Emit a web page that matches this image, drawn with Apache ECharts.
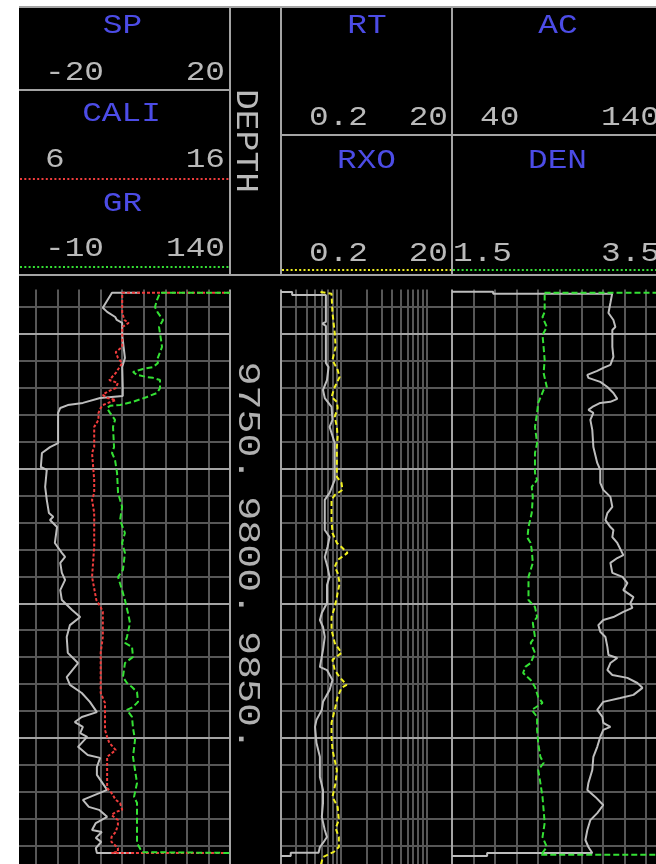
<!DOCTYPE html>
<html>
<head>
<meta charset="utf-8">
<script src="https://cdn.jsdelivr.net/npm/echarts@6/dist/echarts.min.js"></script>
<style>
  html, body { margin: 0; padding: 0; background: #fff; }
  #chart { width: 656px; height: 864px; }
</style>
</head>
<body>
<div id="chart"></div>
<script>
// Depth window and grid
const depthRange = [9680, 9900];
const majorDepths = [9700, 9750, 9800, 9850];
const depthLabels = [9750, 9800, 9850];
const logGrid = [0.3, 0.4, 0.5, 0.6, 0.7, 0.8, 0.9, 1, 2, 3, 4, 5, 6, 7, 8, 9, 10];

// Curve scales: [left, right]
const spScale = [-20, 20];
const caliScale = [6, 16];
const grScale = [-10, 140];
const rtScale = [0.2, 20];
const rxoScale = [0.2, 20];
const acScale = [40, 140];
const denScale = [1.5, 3.5];

// Curves as [depth, value]
const SP = [
  [9684.7, 3.3], [9684.7, -1.9], [9690.3, -3.6], [9691.8, -2.8], [9693.7, -1.3], [9694.8, -1.0],
  [9695.9, 0.0], [9700.4, 0.0], [9708.9, 0.5], [9712.3, 0.0], [9719.7, 0.1], [9723.0, 0.1],
  [9723.8, -4.1], [9725.6, -7.3], [9726.4, -10.1], [9727.5, -11.5], [9729.3, -11.9], [9735.6, -11.9],
  [9740.5, -11.9], [9742.0, -13.4], [9744.2, -14.9], [9749.4, -15.1], [9750.5, -14.0], [9756.8, -14.3],
  [9761.6, -14.0], [9766.5, -13.6], [9767.9, -12.8], [9769.1, -13.4], [9771.7, -12.1], [9777.6, -12.5],
  [9781.3, -11.2], [9782.8, -10.6], [9785.0, -11.5], [9788.7, -11.2], [9791.3, -10.6], [9795.1, -11.5],
  [9798.8, -11.2], [9802.5, -9.3], [9805.1, -7.8], [9808.1, -9.7], [9812.5, -10.3], [9818.4, -10.1],
  [9822.2, -8.2], [9827.4, -10.3], [9830.3, -9.7], [9833.3, -7.5], [9836.6, -6.0], [9840.4, -4.7],
  [9842.2, -7.5], [9844.1, -8.8], [9845.9, -7.3], [9848.2, -7.8], [9849.6, -6.5], [9853.3, -8.2],
  [9856.3, -6.4], [9857.4, -4.1], [9860.8, -4.7], [9863.7, -4.7], [9869.3, -2.8], [9873.0, -7.3],
  [9875.6, -6.2], [9876.7, -4.3], [9879.3, -2.8], [9881.6, -4.9], [9884.2, -5.6], [9884.9, -3.8],
  [9887.1, -4.9], [9888.6, -3.9], [9890.9, -4.9], [9892.7, -4.7], [9892.7, 2.2]
];

const CALI = [
  [9684.7, 16.0], [9684.7, 11.0], [9692.2, 11.0], [9694.8, 11.1], [9695.9, 11.3], [9697.4, 11.0],
  [9704.8, 11.0], [9706.7, 10.7], [9708.9, 10.8], [9710.8, 11.0], [9714.5, 10.7], [9717.1, 10.4],
  [9718.2, 10.8], [9720.1, 10.7], [9721.5, 10.3], [9722.6, 10.1], [9723.8, 10.3], [9724.5, 10.7],
  [9726.4, 10.1], [9727.5, 10.0], [9729.3, 9.9], [9731.9, 9.9], [9734.5, 9.7], [9742.0, 9.7],
  [9744.2, 9.6], [9754.2, 9.7], [9759.0, 9.7], [9761.6, 9.6], [9766.5, 9.7], [9771.7, 9.7],
  [9779.1, 9.7], [9790.2, 9.6], [9798.8, 9.8], [9801.4, 10.0], [9803.2, 10.1], [9812.5, 10.1],
  [9818.4, 10.0], [9833.3, 10.0], [9837.0, 10.2], [9847.0, 10.2], [9849.6, 10.3], [9851.8, 10.4],
  [9854.5, 10.7], [9857.0, 10.3], [9861.9, 10.3], [9868.6, 10.3], [9870.4, 10.5], [9873.0, 10.7],
  [9874.2, 10.9], [9876.7, 11.0], [9877.5, 10.7], [9878.6, 10.5], [9880.5, 10.8], [9882.3, 10.8],
  [9884.9, 10.7], [9886.8, 10.5], [9888.6, 10.5], [9890.9, 10.8], [9892.3, 10.8], [9892.7, 10.5],
  [9892.7, 16.0]
];

const GR = [
  [9684.7, 140], [9684.7, 91.3], [9687.4, 89.2], [9690.0, 87.8], [9692.2, 89.9], [9694.8, 93.4],
  [9697.4, 90.6], [9702.2, 92.0], [9704.8, 92.7], [9709.7, 89.2], [9710.8, 89.9], [9712.3, 86.4],
  [9713.0, 79.5], [9714.1, 72.5], [9715.2, 75.3], [9716.0, 82.2], [9716.3, 86.4], [9717.1, 91.3],
  [9720.1, 91.3], [9721.9, 89.2], [9723.4, 82.2], [9725.2, 72.5], [9726.4, 63.5], [9726.7, 56.5],
  [9727.5, 54.4], [9729.3, 56.5], [9731.9, 60.0], [9734.5, 58.6], [9742.0, 59.3], [9744.2, 57.9],
  [9746.8, 60.0], [9751.6, 61.4], [9759.0, 62.1], [9764.2, 64.9], [9769.1, 63.5], [9773.9, 66.9],
  [9777.6, 64.9], [9781.3, 66.9], [9787.6, 65.5], [9790.2, 62.1], [9795.1, 64.9], [9798.8, 66.9],
  [9803.6, 69.0], [9807.3, 70.4], [9812.5, 68.3], [9814.7, 66.9], [9816.2, 71.8], [9819.9, 72.5],
  [9822.2, 66.9], [9827.4, 65.5], [9829.6, 68.3], [9831.1, 71.8], [9833.0, 75.3], [9836.6, 76.0],
  [9838.5, 72.5], [9839.6, 68.3], [9842.2, 71.8], [9846.3, 72.5], [9850.7, 73.9], [9857.0, 72.5],
  [9861.9, 73.9], [9866.7, 75.3], [9871.9, 73.2], [9874.1, 75.3], [9881.6, 75.3], [9889.0, 75.3],
  [9892.4, 78.8], [9892.7, 140]
];

const RT = [
  [9684.4, 0.2], [9684.4, 0.27], [9685.5, 0.27], [9685.5, 0.67], [9695.5, 0.67], [9696.2, 0.61],
  [9697.0, 0.67], [9710.8, 0.67], [9712.3, 0.72], [9717.1, 0.69], [9720.8, 0.62], [9723.8, 0.65],
  [9727.1, 0.78], [9731.9, 0.80], [9734.5, 0.74], [9740.5, 0.85], [9749.4, 0.85], [9754.2, 0.85],
  [9759.0, 0.74], [9761.6, 0.65], [9772.8, 0.65], [9775.4, 0.74], [9779.1, 0.70], [9782.8, 0.65],
  [9786.5, 0.70], [9790.2, 0.74], [9793.2, 0.69], [9799.9, 0.69], [9803.6, 0.60], [9806.2, 0.57],
  [9808.8, 0.62], [9812.5, 0.65], [9817.3, 0.62], [9823.6, 0.57], [9824.8, 0.69], [9828.5, 0.80],
  [9832.2, 0.74], [9836.6, 0.62], [9839.6, 0.60], [9843.3, 0.52], [9845.9, 0.50], [9851.9, 0.52],
  [9857.0, 0.57], [9864.5, 0.57], [9869.3, 0.62], [9874.1, 0.62], [9879.3, 0.60], [9884.2, 0.65],
  [9886.8, 0.69], [9889.0, 0.62], [9890.5, 0.57], [9892.6, 0.55], [9892.6, 0.26], [9893.8, 0.26],
  [9893.8, 0.2]
];

const RXO = [
  [9684.4, 0.58], [9685.1, 0.78], [9692.2, 0.80], [9699.6, 0.85], [9704.8, 0.87], [9709.7, 0.80],
  [9713.4, 0.92], [9716.0, 0.97], [9719.7, 0.85], [9723.4, 0.78], [9725.2, 0.90], [9727.5, 0.92],
  [9730.8, 0.85], [9734.5, 0.90], [9738.2, 0.92], [9742.0, 0.90], [9749.4, 0.90], [9753.1, 0.90],
  [9755.3, 1.02], [9757.9, 1.05], [9759.8, 0.85], [9761.6, 0.78], [9769.1, 0.78], [9773.9, 0.80],
  [9777.6, 0.90], [9779.1, 1.02], [9781.3, 1.20], [9783.9, 0.92], [9786.5, 0.85], [9788.7, 0.92],
  [9792.5, 0.97], [9797.7, 0.90], [9801.4, 0.85], [9805.1, 0.78], [9809.9, 0.78], [9814.7, 0.85],
  [9818.4, 1.02], [9821.0, 0.80], [9824.8, 0.85], [9827.4, 0.97], [9830.3, 1.17], [9831.4, 1.02],
  [9834.8, 0.92], [9839.6, 0.85], [9844.4, 0.78], [9849.6, 0.78], [9854.4, 0.80], [9861.9, 0.90],
  [9866.7, 0.87], [9871.9, 0.80], [9875.6, 0.92], [9880.5, 0.95], [9883.5, 0.87], [9886.8, 0.95],
  [9890.5, 0.95], [9892.3, 0.83], [9893.4, 0.70], [9894.2, 0.62], [9897.5, 0.58]
];

const AC = [
  [9684.3, 40], [9684.3, 59.1], [9685.1, 59.1], [9685.1, 114.3], [9688.5, 113.5], [9692.2, 112.6],
  [9694.8, 114.9], [9697.4, 115.8], [9698.5, 114.4], [9704.8, 114.4], [9708.5, 114.9], [9711.5, 113.5],
  [9712.6, 110.2], [9713.7, 107.4], [9715.2, 102.8], [9716.3, 103.3], [9717.8, 108.8], [9719.7, 112.1],
  [9721.9, 114.9], [9724.1, 116.7], [9725.2, 113.5], [9725.6, 108.8], [9727.1, 105.1], [9728.2, 103.3],
  [9729.3, 105.6], [9731.9, 104.2], [9735.6, 105.1], [9742.0, 105.6], [9747.9, 107.4], [9750.5, 108.8],
  [9755.3, 108.8], [9757.9, 110.2], [9760.5, 113.5], [9764.2, 114.4], [9766.5, 112.1], [9769.1, 111.2],
  [9771.7, 113.5], [9772.8, 114.9], [9775.4, 114.4], [9777.6, 116.7], [9782.1, 119.5], [9783.2, 116.7],
  [9785.0, 113.5], [9788.7, 114.4], [9790.2, 119.1], [9792.5, 121.4], [9795.1, 119.5], [9797.7, 124.2],
  [9799.9, 122.8], [9801.7, 123.7], [9803.2, 119.5], [9805.1, 114.9], [9806.2, 110.2], [9808.1, 107.9],
  [9810.6, 108.8], [9812.5, 111.2], [9816.2, 112.1], [9819.2, 112.6], [9820.3, 116.7], [9822.2, 113.5],
  [9824.8, 112.1], [9826.6, 114.4], [9827.7, 121.4], [9829.6, 126.0], [9831.4, 128.4], [9834.0, 124.2],
  [9835.2, 118.1], [9836.6, 110.2], [9839.6, 107.4], [9842.2, 109.8], [9844.4, 110.2], [9845.9, 113.5],
  [9847.0, 110.2], [9849.6, 108.8], [9853.3, 107.4], [9857.0, 105.6], [9861.9, 105.1], [9866.7, 103.3],
  [9869.3, 102.8], [9871.9, 106.5], [9874.9, 110.2], [9877.9, 107.4], [9880.5, 104.2], [9884.2, 102.8],
  [9887.9, 101.9], [9890.5, 103.3], [9892.7, 105.1], [9892.7, 56.3], [9893.8, 56.3], [9893.8, 40]
];

const DEN = [
  [9684.7, 3.5], [9684.7, 2.35], [9685.5, 2.36], [9691.8, 2.36], [9693.7, 2.34], [9697.4, 2.38],
  [9700.4, 2.34], [9704.8, 2.35], [9709.7, 2.36], [9714.5, 2.35], [9719.7, 2.38], [9720.8, 2.35],
  [9725.6, 2.30], [9729.3, 2.29], [9734.5, 2.27], [9740.5, 2.29], [9744.2, 2.27], [9751.6, 2.27],
  [9754.2, 2.29], [9756.8, 2.24], [9760.5, 2.25], [9766.5, 2.24], [9771.7, 2.21], [9775.7, 2.20],
  [9777.6, 2.23], [9780.2, 2.24], [9785.0, 2.25], [9787.6, 2.23], [9790.2, 2.21], [9798.8, 2.21],
  [9801.4, 2.27], [9805.1, 2.29], [9807.3, 2.25], [9812.5, 2.27], [9814.7, 2.23], [9818.4, 2.27],
  [9822.2, 2.23], [9823.6, 2.18], [9825.9, 2.16], [9828.5, 2.23], [9831.1, 2.27], [9834.8, 2.30],
  [9837.0, 2.34], [9839.6, 2.24], [9842.2, 2.29], [9847.0, 2.29], [9851.9, 2.30], [9857.0, 2.32],
  [9859.3, 2.35], [9861.9, 2.30], [9866.7, 2.32], [9871.9, 2.34], [9876.7, 2.35], [9881.6, 2.36],
  [9886.8, 2.34], [9890.5, 2.38], [9892.7, 2.34], [9893.4, 2.32], [9893.4, 3.5]
];

// Colours
const C = {
  minor: '#575757', major: '#a4a4a4', frame: '#a4a4a4',
  text: '#bababa', title: '#4c4ce6',
  grey: '#bdbdbd', red: '#f03c3c', green: '#34e034', yellow: '#f0f020'
};
const FONT = '"Liberation Mono", "DejaVu Sans Mono", monospace';

const chart = echarts.init(document.getElementById('chart'), null, { renderer: 'canvas' });

// Track geometry (pixels)
const trackTop = 280.1, trackHeight = 592.5;
const tracks = [
  { left: 14.44, width: 215.56 },   // SP / CALI / GR
  { left: 281, width: 171 },        // RT / RXO (log)
  { left: 452, width: 215.5 }       // AC / DEN
];

const hiddenX = (grid, type, range) => ({
  gridIndex: grid, type, min: range[0], max: range[1], show: false,
  splitLine: { show: false }
});
const gridX = (grid, range, interval) => ({
  gridIndex: grid, type: 'value', min: range[0], max: range[1], interval,
  axisLine: { show: false }, axisTick: { show: false }, axisLabel: { show: false },
  splitLine: { show: true, lineStyle: { color: C.minor, width: 2 } }
});
const depthY = (grid, pos, borderShow) => ({
  gridIndex: grid, type: 'value', inverse: true, min: depthRange[0], max: depthRange[1],
  interval: 10, position: pos,
  axisLine: { show: borderShow, onZero: false, lineStyle: { color: C.frame, width: 2 } },
  axisTick: { show: false }, axisLabel: { show: false },
  splitLine: { show: true, lineStyle: { color: C.minor, width: 2 } }
});

const curve = (name, data, xi, yi, color, dash) => ({
  name, type: 'line', xAxisIndex: xi, yAxisIndex: yi,
  data: data.map(p => [p[1], p[0]]),
  symbol: 'none', showSymbol: false, animation: false, z: 5, clip: true,
  lineStyle: { color, width: 2, type: dash || 'solid' },
  silent: true
});

const majorLines = majorDepths.map(d => ({ yAxis: d, lineStyle: { color: C.major, width: 2, type: 'solid' } }));
const gridLines = (xi, yi, extra) => ({
  type: 'line', xAxisIndex: xi, yAxisIndex: yi, data: [], z: 2, animation: false, silent: true,
  markLine: {
    silent: true, animation: false, symbol: ['none', 'none'], label: { show: false },
    lineStyle: { type: 'solid', color: C.minor, width: 2 },
    data: (extra || []).concat(majorLines)
  }
});

const option = {
  backgroundColor: '#000',
  animation: false,
  grid: tracks.map(t => ({
    left: t.left, top: trackTop, width: t.width, height: trackHeight,
    containLabel: false, outerBoundsMode: 'none', show: false
  })),
  xAxis: [
    hiddenX(0, 'value', spScale),                 // 0 SP
    gridX(0, caliScale, 1),                       // 1 CALI (carries the vertical grid)
    hiddenX(0, 'value', grScale),                 // 2 GR
    Object.assign(hiddenX(1, 'log', rtScale), { logBase: 10 }),   // 3 RT
    Object.assign(hiddenX(1, 'log', rxoScale), { logBase: 10 }),  // 4 RXO
    gridX(2, acScale, 10),                        // 5 AC (carries the vertical grid)
    hiddenX(2, 'value', denScale)                 // 6 DEN
  ],
  yAxis: [
    depthY(0, 'right', true),
    depthY(1, 'left', true),
    depthY(2, 'left', true)
  ],
  series: [
    gridLines(1, 0),
    gridLines(3, 1, logGrid.map(v => ({ xAxis: v }))),
    gridLines(5, 2),
    curve('SP', SP, 0, 0, C.grey),
    curve('CALI', CALI, 1, 0, C.red, [3, 2]),
    curve('GR', GR, 2, 0, C.green, [6, 3]),
    curve('RT', RT, 3, 1, C.grey),
    curve('RXO', RXO, 4, 1, C.yellow, [5, 3]),
    curve('AC', AC, 5, 2, C.grey),
    curve('DEN', DEN, 6, 2, C.green, [6, 3])
  ]
};
chart.setOption(option);

// ---- Header panel and depth annotation ----
const line = (x1, y1, x2, y2, stroke, dash) => ({
  type: 'line', z: 60, silent: true,
  shape: { x1, y1, x2, y2 },
  style: { stroke, lineWidth: 2, lineDash: dash || null }
});
const txt = (text, x, y, align, fill, size, sx) => ({
  type: 'text', x, y, z: 61, silent: true, scaleX: sx || 1.17,
  style: {
    text, font: size + 'px ' + FONT, fill,
    align, verticalAlign: 'middle', textAlign: align, textVerticalAlign: 'middle'
  }
});
const rect = (x, y, w, h, fill, z) => ({
  type: 'rect', z, silent: true, shape: { x, y, width: w, height: h }, style: { fill }
});

const elements = [
  // page margins and the gap between header and tracks
  rect(0, 0, 19, 864, '#fff', 80),
  rect(0, 0, 656, 6, '#fff', 80),
  rect(19, 277, 637, 12.6, '#000', 55),

  // header frame
  line(19, 7, 656, 7, C.frame),
  line(19, 275, 656, 275, C.frame),
  line(230, 7, 230, 275, C.frame),
  line(281, 7, 281, 275, C.frame),
  line(452, 7, 452, 275, C.frame),
  line(19, 90, 230, 90, C.frame),
  line(281, 135, 656, 135, C.frame),
  line(20, 179, 230, 179, C.red, [2, 2.3]),
  line(20, 267, 230, 267, C.green, [2, 2.3]),
  line(282, 270, 451, 270, C.yellow, [2, 2.3]),
  line(453, 270, 656, 270, C.green, [2, 2.3]),

  // curve names and scales
  txt('SP', 122.5, 26, 'center', C.title, 28),
  txt('-20', 45, 73, 'left', C.text, 28),
  txt('20', 225, 73, 'right', C.text, 28),
  txt('CALI', 121.5, 114, 'center', C.title, 28),
  txt('6', 45, 160, 'left', C.text, 28),
  txt('16', 225, 160, 'right', C.text, 28),
  txt('GR', 122.5, 204, 'center', C.title, 28),
  txt('-10', 45, 249, 'left', C.text, 28),
  txt('140', 225, 249, 'right', C.text, 28),

  txt('RT', 367, 26, 'center', C.title, 28),
  txt('0.2', 309, 118, 'left', C.text, 28),
  txt('20', 448, 118, 'right', C.text, 28),
  txt('RXO', 366.5, 161, 'center', C.title, 28),
  txt('0.2', 309, 254, 'left', C.text, 28),
  txt('20', 448, 254, 'right', C.text, 28),

  txt('AC', 558, 26, 'center', C.title, 28),
  txt('40', 480, 118, 'left', C.text, 28),
  txt('140', 660, 118, 'right', C.text, 28),
  txt('DEN', 557.5, 161, 'center', C.title, 28),
  txt('1.5', 453, 254, 'left', C.text, 28),
  txt('3.5', 660, 254, 'right', C.text, 28),

  Object.assign(txt('DEPTH', 245, 141, 'center', C.text, 31, 1.12), { rotation: -Math.PI / 2 })
];

// depth numbers placed through the depth axis
depthLabels.forEach(d => {
  const y = chart.convertToPixel({ yAxisIndex: 0 }, d);
  elements.push(Object.assign(
    txt(d + '.', 247, y + 13, 'right', '#b0b0b0', 32, 1.25),
    { rotation: -Math.PI / 2 }
  ));
});

chart.setOption({ graphic: { elements } });
</script>
</body>
</html>
